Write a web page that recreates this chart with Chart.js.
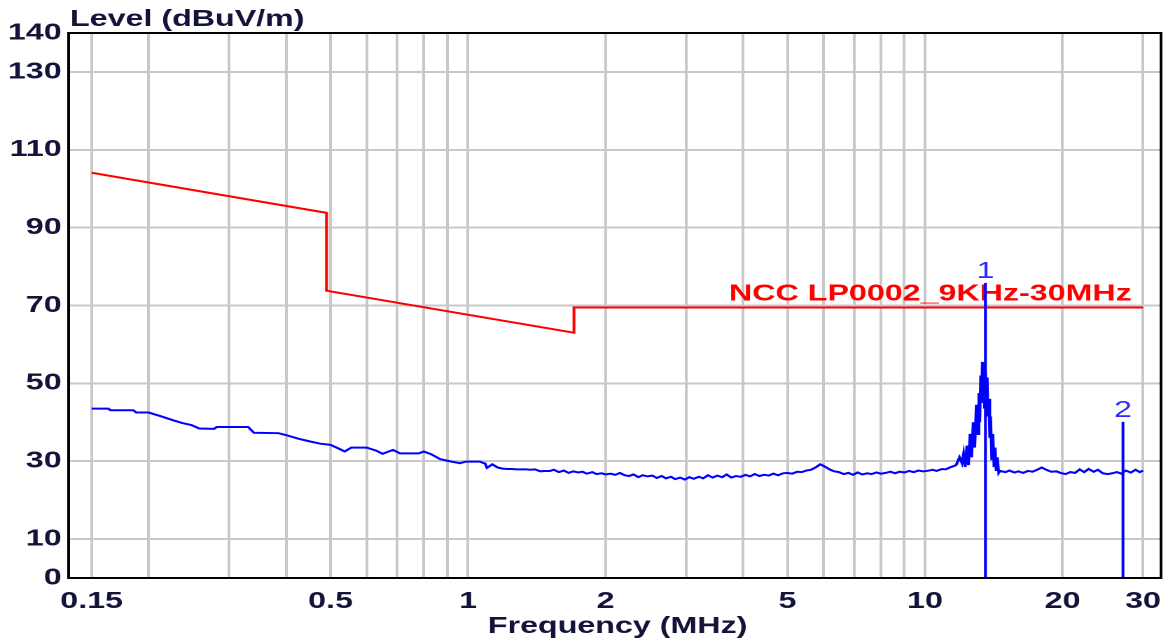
<!DOCTYPE html>
<html><head><meta charset="utf-8">
<script src="https://cdn.jsdelivr.net/npm/chart.js@4"></script>
<style>
html,body{margin:0;padding:0;background:#fff;overflow:hidden;}
#wrap{position:absolute;left:0;top:0;width:834px;height:641px;transform:scaleX(1.40048);transform-origin:0 0;}
</style></head><body>
<div id="wrap"><canvas id="c"></canvas></div>
<script>
const traceFreq = [
0.150,0.163,0.165,0.185,0.188,0.200,0.212,0.225,0.237,0.248,0.258,0.278,0.282,0.330,0.340,0.385,0.400,0.425,0.450,0.475,0.500,0.520,0.537,0.555,0.600,0.630,0.650,0.685,0.710,0.780,0.800,0.830,0.870,0.920,0.960,0.990,1.060,1.090,1.100,
1.13,1.16,1.19,1.22,1.25,1.28,1.31,1.34,1.37,1.40,1.44,1.47,1.51,1.54,1.58,1.62,1.66,1.70,1.74,1.78,1.82,1.87,1.91,1.96,2.00,2.05,2.10,2.15,2.20,2.25,2.30,2.36,2.41,2.47,2.53,2.59,2.65,2.71,2.78,2.84,2.91,2.98,3.05,3.12,3.20,3.27,3.35,3.43,3.51,3.60,3.68,3.77,3.86,3.95,4.05,4.14,4.24,4.34,4.45,4.55,4.66,4.77,4.89,5.00,5.12,5.25,5.37,5.50,5.63,5.76,5.90,6.04,6.18,6.33,6.48,6.64,6.80,6.96,7.12,7.29,7.47,7.65,7.83,8.01,8.20,8.40,8.60,8.80,9.01,9.23,9.45,9.67,9.90,10.1,10.4,10.6,10.9,11.1,11.4,11.7,11.9,
12.05,12.15,12.25,12.35,12.45,12.55,12.65,12.75,12.85,12.95,13.05,13.12,13.18,13.24,13.30,13.35,13.40,13.45,13.50,13.56,13.62,13.68,13.74,13.80,13.86,13.92,14.00,14.08,14.16,14.24,14.32,14.40,14.50,
14.6,15.0,15.3,15.7,16.0,16.4,16.8,17.2,17.6,18.0,18.5,18.9,19.4,19.8,20.3,20.8,21.3,21.8,22.3,22.8,23.4,23.9,24.5,25.1,25.7,26.3,26.9,27.5,28.2,28.9,29.5,30.0];
const traceLevel = [
43.5,43.5,43.1,43.1,42.5,42.5,41.6,40.6,39.8,39.3,38.4,38.3,38.8,38.8,37.3,37.2,36.7,35.8,35.1,34.5,34.2,33.3,32.5,33.5,33.5,32.7,31.9,32.9,32.0,32.0,32.5,31.8,30.5,29.9,29.5,29.9,29.9,29.4,28.3,
29.2,28.4,28.1,28.0,28.0,27.9,27.9,27.9,27.8,27.9,
27.4,27.5,27.5,27.8,27.2,27.6,27.0,27.4,27.1,27.3,
26.8,27.2,26.7,26.9,26.6,26.8,26.5,27.0,26.4,26.2,
26.6,25.9,26.4,26.1,26.3,25.7,26.2,25.6,26.0,25.4,
25.8,25.3,25.9,25.5,26.0,25.6,26.4,25.8,26.3,25.9,
26.6,25.8,26.2,26.0,26.5,26.1,26.7,26.2,26.5,26.3,
26.8,26.4,26.9,27.0,26.8,27.3,27.2,27.6,27.8,28.4,
29.2,28.6,27.9,27.4,27.2,26.7,27.0,26.5,27.1,26.6,
26.9,26.7,27.1,26.8,27.0,27.3,26.9,27.3,27.1,27.5,
27.2,27.6,27.4,27.5,27.8,27.5,28.0,27.9,28.5,29.0,
31.0,
29.5,32.0,28.5,34.0,29.0,37.0,31.0,40.0,33.5,44.5,
37.0,47.5,40.0,52.0,45.0,55.5,48.0,54.5,43.5,53.0,
48.0,51.5,41.5,46.0,36.0,41.5,30.5,37.0,28.5,33.5,
27.5,31.0,27.0,
27.5,27.2,27.6,27.1,27.4,27.0,27.5,27.3,27.8,28.4,
27.7,27.3,27.4,27.0,26.7,27.2,27.0,27.9,27.2,28.0,
27.3,27.8,26.9,26.7,26.9,27.2,26.8,27.6,27.1,27.8,
27.2,27.6];
const limitFreq = [0.15, 0.49, 0.49, 1.705, 1.705, 30];
const limitLevel = [104.1, 93.8, 73.8, 63.0, 69.5, 69.5];
const markerFreq = [13.56, 27.12];
const markerLevel = [75.8, 40.1];
const markerLabels = ['1', '2'];
const xGridTicks = [0.15,0.2,0.3,0.4,0.5,0.6,0.7,0.8,0.9,1,2,3,4,5,6,7,8,9,10,20,30];
const xTickLabels = [0.15,0.5,1,2,5,10,20,30];
const yTicks = [0,10,30,50,70,90,110,130,140];
const yTitle = 'Level (dBuV/m)';
const xTitle = 'Frequency (MHz)';
const limitName = 'NCC LP0002_9KHz-30MHz';

const FONT = '"Liberation Sans", Arial, sans-serif';
const TXT = '#14143a';

const datasets = [
  {label: limitName, data: limitFreq.map((f,i)=>({x:f,y:limitLevel[i]})), borderColor:'#ff0000', borderWidth:2, pointRadius:0, tension:0, order:3},
  {label: 'Trace', data: traceFreq.map((f,i)=>({x:f,y:traceLevel[i]})), borderColor:'#0000ff', borderWidth:2, pointRadius:0, tension:0, order:2},
];
markerFreq.forEach((f,i)=>{
  datasets.push({label:'Marker '+markerLabels[i], data:[{x:f,y:0},{x:f,y:markerLevel[i]}], borderColor:'#0000ff', borderWidth:2, pointRadius:0, order:1});
});

const overlay = {
  id:'overlay',
  beforeDatasetsDraw(chart){
    const ctx = chart.ctx, xs = chart.scales.x, ys = chart.scales.y;
    ctx.save();
    ctx.font = 'bold 23px ' + FONT;
    ctx.fillStyle = '#ff0000';
    ctx.textAlign = 'right';
    ctx.textBaseline = 'alphabetic';
    ctx.fillText(limitName, xs.getPixelForValue(30) - 8, ys.getPixelForValue(limitLevel[limitLevel.length-1]) - 7);
    ctx.restore();
  },
  afterDraw(chart){
    const ctx = chart.ctx, a = chart.chartArea, xs = chart.scales.x, ys = chart.scales.y;
    ctx.save();
    ctx.strokeStyle = '#000';
    ctx.lineWidth = 2;
    ctx.strokeRect(a.left, a.top, a.right - a.left, a.bottom - a.top);
    ctx.fillStyle = TXT;
    ctx.font = 'bold 23px ' + FONT;
    ctx.textBaseline = 'alphabetic';
    ctx.textAlign = 'left';
    ctx.fillText(yTitle, a.left + 1, 26);
    ctx.textAlign = 'center';
    ctx.fillText(xTitle, (a.left + a.right) / 2 + 2, 633);
    ctx.font = '23px ' + FONT;
    ctx.fillStyle = '#2a2aff';
    markerFreq.forEach((f,i)=>{
      ctx.fillText(markerLabels[i], xs.getPixelForValue(f), ys.getPixelForValue(markerLevel[i]) - 5);
    });
    ctx.restore();
  }
};

new Chart(document.getElementById('c'), {
  type:'line',
  data:{datasets},
  plugins:[overlay],
  options:{
    responsive:true, maintainAspectRatio:false, animation:false, devicePixelRatio:2,
    layout:{padding:{top:33,right:5,left:0,bottom:0}},
    plugins:{legend:{display:false}, tooltip:{enabled:false}},
    scales:{
      x:{type:'logarithmic', min:0.1336, max:32.85,
        afterBuildTicks(s){ s.ticks = xGridTicks.map(v=>({value:v})); },
        grid:{color:'#c8c8c8', lineWidth:2, drawTicks:false},
        border:{display:false},
        ticks:{autoSkip:false, maxRotation:0, minRotation:0, padding:10, color:TXT,
          font:{family:FONT, size:23, weight:'bold'},
          callback(v){ return xTickLabels.some(t=>Math.abs(t-v)<1e-9) ? String(v) : ''; }},
        afterFit(s){ s.height = 63; s.paddingLeft = 0; s.paddingRight = 0; }
      },
      y:{min:0, max:140,
        afterBuildTicks(s){ s.ticks = yTicks.map(v=>({value:v})); },
        grid:{color:'#c8c8c8', lineWidth:2, drawTicks:false},
        border:{display:false},
        ticks:{padding:5, color:TXT, font:{family:FONT, size:23, weight:'bold'}, callback(v){ return String(v); }},
        afterFit(s){ s.width = 49; s.paddingTop = 0; s.paddingBottom = 0; }
      }
    }
  }
});
</script>
</body></html>
